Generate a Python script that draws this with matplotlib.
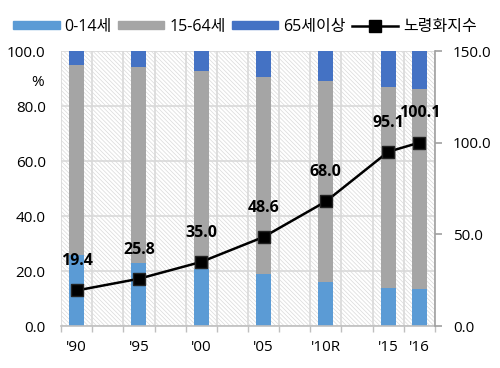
import numpy as np
import matplotlib.pyplot as plt
from matplotlib.patches import Rectangle, Patch
from matplotlib.lines import Line2D

plt.rcParams['font.family'] = ['Open Sans', 'Noto Sans CJK KR', 'DejaVu Sans']
plt.rcParams['hatch.linewidth'] = 0.5

# 12 category slots, empty ones are gaps on the axis
slots = ["'90", "", "'95", "", "'00", "", "'05", "", "'10R", "", "'15", "'16"]
young = [25.7, 23.0, 20.9, 19.1, 16.2, 13.9, 13.6]     # 0-14세
working = [69.3, 71.1, 71.8, 71.6, 72.8, 72.9, 72.8]   # 15-64세
old = [5.0, 5.9, 7.3, 9.3, 11.0, 13.2, 13.6]           # 65세이상
aging = [19.4, 25.8, 35.0, 48.6, 68.0, 95.1, 100.1]    # 노령화지수

x = np.array([i for i, s in enumerate(slots) if s])
labels = [s for s in slots if s]

fig = plt.figure(figsize=(5, 3.68), dpi=100)
ax = fig.add_axes([0.122, 0.114, 0.748, 0.747])

# hatched background
bg = Rectangle((0, 0), 1, 1, transform=ax.transAxes, facecolor='white',
               edgecolor='#dadada', hatch='\\\\\\\\\\\\\\\\', lw=0, zorder=0)
ax.add_patch(bg)

w = 0.48
ax.bar(x, young, w, color='#5B9BD5', zorder=2)
ax.bar(x, working, w, bottom=young, color='#A5A5A5', zorder=2)
ax.bar(x, old, w, bottom=np.array(young) + np.array(working), color='#4472C4', zorder=2)

ax.set_xlim(-0.5, len(slots) - 0.5)
ax.set_ylim(0, 100)
ax.set_yticks(np.arange(0, 101, 20))
ax.set_yticklabels(['%.1f' % v for v in np.arange(0, 101, 20)], fontsize=11)
ax.set_xticks(x)
ax.set_xticklabels(labels, fontsize=11)
ax.set_xticks(np.arange(-0.5, len(slots), 1), minor=True)
ax.tick_params(axis='x', which='major', length=0, pad=10)
ax.tick_params(axis='x', which='minor', length=4, color='#bfbfbf', width=1)
ax.tick_params(axis='y', length=0, pad=11)
ax.set_axisbelow(True)
ax.yaxis.grid(True, color='#d9d9d9', lw=1.2)
ax.xaxis.grid(True, which='minor', color='#d9d9d9', lw=1.2)
for s in ['left', 'top', 'right']:
    ax.spines[s].set_visible(False)
ax.spines['bottom'].set_color('#bfbfbf')
ax.spines['bottom'].set_linewidth(1.2)

ax2 = ax.twinx()
ax2.plot(x, aging, color='black', lw=1.8, marker='s', markersize=8,
         markerfacecolor='black', markeredgecolor='#222222', zorder=3)
for xi, v in zip(x, aging):
    ax2.annotate('%.1f' % v, (xi, v), xytext=(0, 21), textcoords='offset points',
                 ha='center', va='center', fontsize=11.5, fontweight='bold')
ax2.set_ylim(0, 150)
ax2.set_yticks([0, 50, 100, 150])
ax2.set_yticklabels(['%.1f' % v for v in [0, 50, 100, 150]], fontsize=11)
ax2.tick_params(axis='y', length=5, color='#a0a0a0', width=1.2, pad=8)
for s in ['left', 'top', 'bottom']:
    ax2.spines[s].set_visible(False)
ax2.spines['right'].set_color('#a0a0a0')
ax2.spines['right'].set_linewidth(1.2)

fig.text(38 / 500, 1 - 82 / 368, '%', ha='center', va='center', fontsize=11)

handles = [Patch(color='#5B9BD5'), Patch(color='#A5A5A5'), Patch(color='#4472C4'),
           Line2D([], [], color='black', lw=1.8, marker='s', markersize=8)]
fig.legend(handles, ['0-14세', '15-64세', '65세이상', '노령화지수'], loc='center',
           bbox_to_anchor=(0.49, 0.927), ncol=4, frameon=False, fontsize=11.5,
           handlelength=2.9, handleheight=0.45, handletextpad=0.3, columnspacing=0.4)

plt.savefig('out.png')
